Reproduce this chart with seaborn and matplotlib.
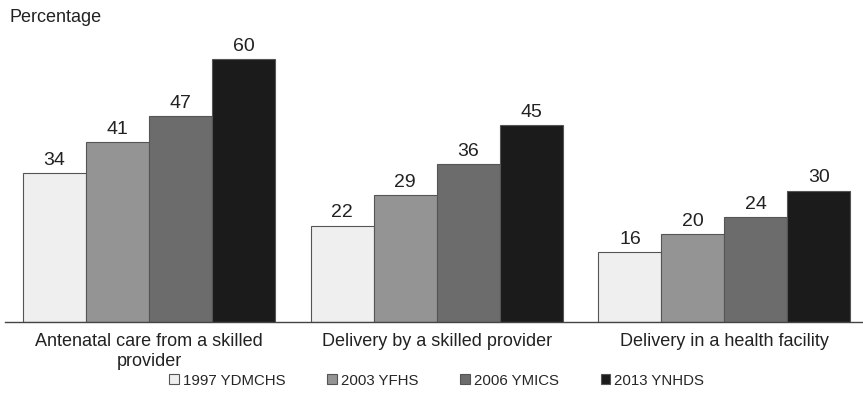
import matplotlib
matplotlib.use("Agg")
import matplotlib.pyplot as plt
import seaborn as sns
import pandas as pd

categories = ["Antenatal care from a skilled\nprovider",
              "Delivery by a skilled provider",
              "Delivery in a health facility"]
surveys = ["1997 YDMCHS", "2003 YFHS", "2006 YMICS", "2013 YNHDS"]
v1997 = [34, 22, 16]
v2003 = [41, 29, 20]
v2006 = [47, 36, 24]
v2013 = [60, 45, 30]
colors = ["#efefef", "#949494", "#6c6c6c", "#1b1b1b"]

rows = []
for survey, vals in zip(surveys, [v1997, v2003, v2006, v2013]):
    for cat, v in zip(categories, vals):
        rows.append({"category": cat, "survey": survey, "value": v})
df = pd.DataFrame(rows)

sns.set_theme(style="white")
plt.rcParams["font.family"] = ["Liberation Sans", "DejaVu Sans"]

fig = plt.figure(figsize=(8.63, 3.96), dpi=100)
ax = fig.add_axes([0.006, 0.187, 1.0, 0.78])

sns.barplot(data=df, x="category", y="value", hue="survey",
            order=categories, hue_order=surveys, palette=colors,
            width=0.875, edgecolor="#555555", linewidth=0.8,
            saturation=1, ax=ax)

for container in ax.containers:
    ax.bar_label(container, fmt="%d", padding=3, fontsize=14, color="#222222")

ax.set_xlim(-0.5, 2.5)
ax.set_ylim(0, 70.5)
ax.set_xlabel("")
ax.set_ylabel("")
ax.set_yticks([])
ax.tick_params(axis="x", length=0, labelsize=13, colors="#222222", pad=8)
for side in ["top", "right", "left"]:
    ax.spines[side].set_visible(False)
ax.spines["bottom"].set_color("#444444")
ax.spines["bottom"].set_linewidth(1.0)

fig.text(0.011, 0.955, "Percentage", fontsize=13, color="#222222", va="center")

ax.legend(loc="center", bbox_to_anchor=(0.5, -0.19), ncol=4, frameon=False,
          fontsize=10.8, handlelength=0.65, handleheight=0.65, handletextpad=0.25,
          columnspacing=2.8)

fig.savefig("out.png", dpi=100)
